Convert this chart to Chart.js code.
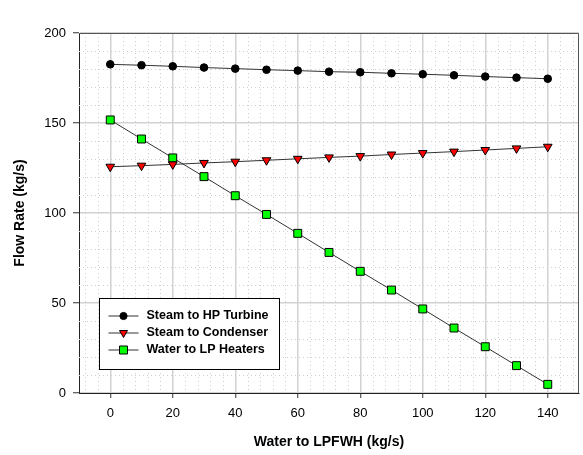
<!DOCTYPE html>
<html>
<head>
<meta charset="utf-8">
<script src="https://cdn.jsdelivr.net/npm/chart.js@4.4.1/dist/chart.umd.min.js"></script>
<style>
    body { margin: 0; background: #fff; }
    #wrap { width: 583px; height: 455px; }
</style>
</head>
<body>
<div id="wrap"><canvas id="flowChart" width="583" height="455"></canvas></div>
<script>
// water flow to LPFWH (kg/s)
const waterFlow = [0, 10, 20, 30, 40, 50, 60, 70, 80, 90, 100, 110, 120, 130, 140];
const steamHpTurbine = [182.6, 182.1, 181.5, 180.8, 180.2, 179.6, 179.1, 178.5, 178.2, 177.6, 177.1, 176.5, 175.8, 175.2, 174.6];
const steamCondenser = [125.7, 126.3, 127.0, 127.8, 128.5, 129.3, 130.1, 130.9, 131.6, 132.5, 133.3, 134.1, 135.0, 135.9, 136.8];
const waterLpHeaters = [151.7, 141.1, 130.6, 120.2, 109.6, 99.2, 88.7, 78.1, 67.6, 57.2, 46.7, 36.1, 25.7, 15.2, 4.8];

const seriesNames = ["Steam to HP Turbine", "Steam to Condenser", "Water to LP Heaters"];
const xTicks = [0, 20, 40, 60, 80, 100, 120, 140];
const yTicks = [0, 50, 100, 150, 200];

const FONT = "'Liberation Sans', Arial, sans-serif";

function toPoints(values) {
    return waterFlow.map((x, i) => ({ x: x, y: values[i] }));
}

// dotted minor grid, frame on top/right, legend box inside the plot
const extras = {
    id: "extras",
    beforeDatasetsDraw(chart) {
        const ctx = chart.ctx;
        const area = chart.chartArea;
        const xs = chart.scales.x, ys = chart.scales.y;
        ctx.save();
        ctx.strokeStyle = "#cfcfcf";
        ctx.lineWidth = 1;
        ctx.setLineDash([1, 3]);
        for (let v = -8; v < 150; v += 4) {
            if (v % 20 === 0) continue;
            const px = Math.round(xs.getPixelForValue(v)) + 0.5;
            ctx.beginPath();
            ctx.moveTo(px, area.top);
            ctx.lineTo(px, area.bottom);
            ctx.stroke();
        }
        for (let v = 10; v < 200; v += 10) {
            if (v % 50 === 0) continue;
            const py = Math.round(ys.getPixelForValue(v)) + 0.5;
            ctx.beginPath();
            ctx.moveTo(area.left, py);
            ctx.lineTo(area.right, py);
            ctx.stroke();
        }
        ctx.setLineDash([]);
        ctx.strokeStyle = "#555";
        ctx.beginPath();
        ctx.moveTo(area.left, area.top + 0.5);
        ctx.lineTo(area.right - 0.5, area.top + 0.5);
        ctx.lineTo(area.right - 0.5, area.bottom);
        ctx.stroke();
        ctx.restore();
    },
    afterDraw(chart) {
        const ctx = chart.ctx;
        const area = chart.chartArea;
        const bx = area.left + 20.5, by = area.top + 265.5, bw = 180, bh = 71;
        ctx.save();
        ctx.fillStyle = "#fff";
        ctx.fillRect(bx, by, bw, bh);
        ctx.strokeStyle = "#000";
        ctx.lineWidth = 1;
        ctx.strokeRect(bx, by, bw, bh);
        ctx.font = "bold 12.5px " + FONT;
        ctx.textBaseline = "middle";
        chart.data.datasets.forEach((ds, i) => {
            const cy = by + 17.5 + i * 17;
            const cx = bx + 24;
            ctx.strokeStyle = "#333";
            ctx.beginPath();
            ctx.moveTo(bx + 9, cy);
            ctx.lineTo(bx + 39, cy);
            ctx.stroke();
            ctx.fillStyle = ds.pointBackgroundColor;
            ctx.strokeStyle = "#000";
            ctx.beginPath();
            if (ds.pointStyle === "circle") {
                ctx.arc(cx, cy, 3.6, 0, Math.PI * 2);
            } else if (ds.pointStyle === "triangle") {
                ctx.moveTo(cx - 4, cy - 2.5);
                ctx.lineTo(cx + 4, cy - 2.5);
                ctx.lineTo(cx, cy + 4.5);
                ctx.closePath();
            } else {
                ctx.rect(cx - 4, cy - 4, 8, 8);
            }
            ctx.fill();
            ctx.stroke();
            ctx.fillStyle = "#000";
            ctx.fillText(ds.label, bx + 47, cy);
        });
        ctx.restore();
    }
};

new Chart(document.getElementById("flowChart").getContext("2d"), {
    type: "line",
    data: {
        datasets: [
            {
                label: seriesNames[0],
                data: toPoints(steamHpTurbine),
                borderColor: "#333",
                borderWidth: 1,
                pointStyle: "circle",
                pointRadius: 3.8,
                pointBackgroundColor: "#000",
                pointBorderColor: "#000",
                pointBorderWidth: 1
            },
            {
                label: seriesNames[1],
                data: toPoints(steamCondenser),
                borderColor: "#333",
                borderWidth: 1,
                pointStyle: "triangle",
                pointRotation: 180,
                pointRadius: 5,
                pointBackgroundColor: "#ff0000",
                pointBorderColor: "#000",
                pointBorderWidth: 1
            },
            {
                label: seriesNames[2],
                data: toPoints(waterLpHeaters),
                borderColor: "#333",
                borderWidth: 1,
                pointStyle: "rect",
                pointRadius: 5.6,
                pointBackgroundColor: "#00ff00",
                pointBorderColor: "#000",
                pointBorderWidth: 1
            }
        ]
    },
    options: {
        responsive: false,
        animation: false,
        layout: { autoPadding: false, padding: { top: 33, right: 4, left: 0, bottom: 0 } },
        plugins: {
            legend: { display: false },
            tooltip: { enabled: false }
        },
        scales: {
            x: {
                type: "linear",
                min: -10,
                max: 150,
                afterBuildTicks: s => { s.ticks = xTicks.map(v => ({ value: v })); },
                afterFit: s => { s.height = 62; },
                border: { color: "#222", width: 1 },
                grid: { color: "#d2d2d2", lineWidth: 1.5, tickLength: 5, tickColor: "#333", tickWidth: 1 },
                ticks: { color: "#000", padding: 8, font: { family: FONT, size: 13 } },
                title: {
                    display: true,
                    text: "Water to LPFWH (kg/s)",
                    color: "#000",
                    font: { family: FONT, size: 14, weight: "bold" },
                    padding: { top: 0, bottom: 4.6 }
                }
            },
            y: {
                min: 0,
                max: 200,
                afterBuildTicks: s => { s.ticks = yTicks.map(v => ({ value: v })); },
                afterFit: s => { s.width = 79; },
                border: { color: "#222", width: 1 },
                grid: { color: "#d2d2d2", lineWidth: 1.5, tickLength: 6, tickColor: "#333", tickWidth: 1 },
                ticks: { color: "#000", padding: 7, font: { family: FONT, size: 13 } },
                title: {
                    display: true,
                    text: "Flow Rate (kg/s)",
                    color: "#000",
                    font: { family: FONT, size: 14, weight: "bold" },
                    padding: { top: 12, bottom: 0 }
                }
            }
        }
    },
    plugins: [extras]
});
</script>
</body>
</html>
